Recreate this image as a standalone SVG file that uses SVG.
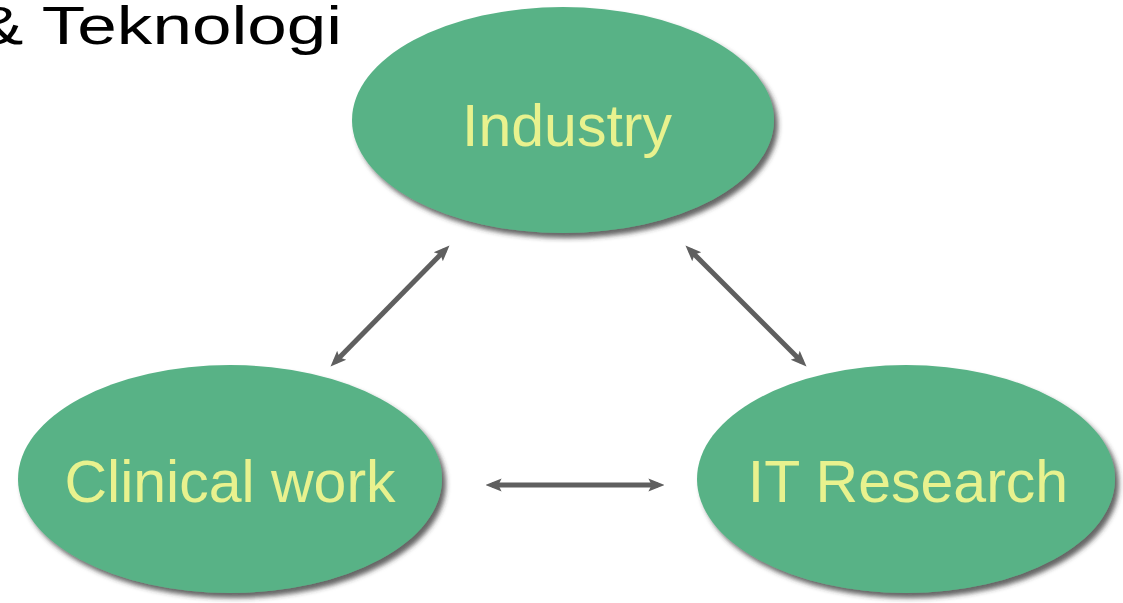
<svg xmlns="http://www.w3.org/2000/svg" width="1123" height="603" viewBox="0 0 1123 603">
<style>
.node{fill:#58b286;filter:url(#sh)}
.lbl{font-family:"Liberation Sans",Arial,sans-serif;font-size:59px;fill:#e8f28e;text-anchor:middle}
.con{stroke:#5f5f5f;stroke-width:5;fill:none;marker-start:url(#ah);marker-end:url(#ah)}
.title{font-family:"Liberation Sans",Arial,sans-serif;font-size:54px;fill:#000}
</style>
<defs>
<filter id="sh" x="-10%" y="-10%" width="125%" height="130%">
<feDropShadow dx="4" dy="5" stdDeviation="2.5" flood-color="#333" flood-opacity="0.75"/>
</filter>
<marker id="ah" viewBox="0 0 10 10" refX="6" refY="5" markerWidth="16" markerHeight="16" markerUnits="userSpaceOnUse" orient="auto-start-reverse">
<path d="M0,1 L10,5 L0,9 L2,5 Z" fill="#5f5f5f"/>
</marker>
</defs>
<rect width="1123" height="603" fill="#fff"/>
<text class="title" x="-24" y="44" textLength="366" lengthAdjust="spacingAndGlyphs">&amp; Teknologi</text>
<g id="connectors">
<line class="con" x1="445" y1="250" x2="335" y2="362"/>
<line class="con" x1="690" y1="250" x2="802" y2="362"/>
<line class="con" x1="492" y1="485" x2="658" y2="485"/>
</g>
<g id="industry">
<ellipse class="node" cx="563" cy="120" rx="211" ry="113"/>
<text class="lbl" x="567" y="146">Industry</text>
</g>
<g id="clinical">
<ellipse class="node" cx="230" cy="479" rx="212" ry="114"/>
<text class="lbl" x="230" y="502">Clinical work</text>
</g>
<g id="itresearch">
<ellipse class="node" cx="906" cy="479" rx="209" ry="114"/>
<text class="lbl" x="908" y="502">IT Research</text>
</g>
</svg>
